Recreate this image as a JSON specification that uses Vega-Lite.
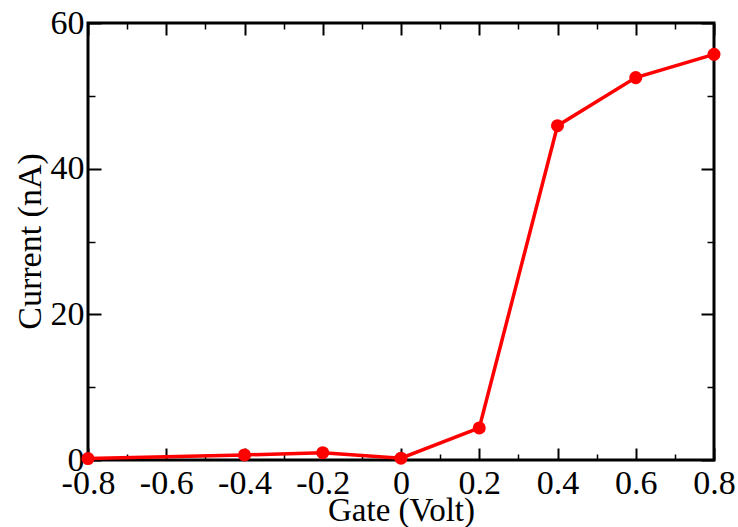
{
  "$schema": "https://vega.github.io/schema/vega-lite/v6.json",
  "width": 626,
  "height": 437,
  "autosize": {"type": "none"},
  "padding": {"left": 88, "top": 23, "right": 24, "bottom": 67},
  "background": "white",
  "config": {
    "view": {"stroke": "black", "strokeWidth": 3},
    "axis": {
      "domain": false,
      "grid": false,
      "labelFont": "Liberation Serif",
      "labelFontSize": 34,
      "labelColor": "black",
      "titleFont": "Liberation Serif",
      "titleFontSize": 34,
      "titleFontWeight": "normal",
      "titleColor": "black",
      "labelFlush": false,
      "labelOverlap": false,
      "labelBound": false,
      "tickColor": "black"
    }
  },
  "data": {
    "values": [
      {"gate": -0.8, "current": 0.2},
      {"gate": -0.4, "current": 0.7},
      {"gate": -0.2, "current": 1.0},
      {"gate": 0.0, "current": 0.25},
      {"gate": 0.2, "current": 4.4},
      {"gate": 0.4, "current": 45.9},
      {"gate": 0.6, "current": 52.5},
      {"gate": 0.8, "current": 55.7}
    ]
  },
  "resolve": {"axis": {"x": "independent", "y": "independent"}},
  "layer": [
    {
      "mark": {"type": "line", "color": "#ff0000", "strokeWidth": 3.5},
      "encoding": {
        "x": {"field": "gate", "type": "quantitative",
          "scale": {"domain": [-0.8, 0.8], "nice": false, "zero": false},
          "axis": {"orient": "bottom", "values": [-0.8, -0.6, -0.4, -0.2, 0, 0.2, 0.4, 0.6, 0.8], "ticks": false, "labelPadding": 6, "title": "Gate (Volt)", "titleFontSize": 33, "titleBaseline": "alphabetic", "titleX": 313, "titleY": 60, "labelExpr": "datum.value == 0 ? '0' : replace(format(datum.value, '.1f'), '\u2212', '-')"}},
        "y": {"field": "current", "type": "quantitative",
          "scale": {"domain": [0, 60], "nice": false},
          "axis": {"orient": "left", "values": [0, 20, 40, 60], "ticks": false, "labelPadding": 4, "title": "Current (nA)", "titleBaseline": "alphabetic", "titleAngle": -90, "titleX": -48, "titleY": 218}}
      }
    },
    {
      "mark": {"type": "point", "filled": true, "color": "#ff0000", "size": 170, "opacity": 1},
      "encoding": {
        "x": {"field": "gate", "type": "quantitative",
          "axis": {"orient": "bottom", "values": [-0.8, -0.6, -0.4, -0.2, 0, 0.2, 0.4, 0.6, 0.8], "labels": false, "tickSize": -12, "tickWidth": 2, "title": null}},
        "y": {"field": "current", "type": "quantitative",
          "axis": {"orient": "left", "values": [0, 20, 40, 60], "labels": false, "tickSize": -13, "tickWidth": 2, "title": null}}
      }
    },
    {
      "mark": {"type": "point", "opacity": 0},
      "encoding": {
        "x": {"field": "gate", "type": "quantitative",
          "axis": {"orient": "bottom", "values": [-0.7, -0.5, -0.3, -0.1, 0.1, 0.3, 0.5, 0.7], "labels": false, "tickSize": -6, "tickWidth": 1.5, "title": null}},
        "y": {"field": "current", "type": "quantitative",
          "axis": {"orient": "left", "values": [10, 30, 50], "labels": false, "tickSize": -7, "tickWidth": 1.5, "title": null}}
      }
    },
    {
      "mark": {"type": "point", "opacity": 0},
      "encoding": {
        "x": {"field": "gate", "type": "quantitative",
          "axis": {"orient": "top", "values": [-0.8, -0.6, -0.4, -0.2, 0, 0.2, 0.4, 0.6, 0.8], "labels": false, "tickSize": -12, "tickWidth": 2, "title": null}},
        "y": {"field": "current", "type": "quantitative",
          "axis": {"orient": "right", "values": [0, 20, 40, 60], "labels": false, "tickSize": -13, "tickWidth": 2, "title": null}}
      }
    },
    {
      "mark": {"type": "point", "opacity": 0},
      "encoding": {
        "x": {"field": "gate", "type": "quantitative",
          "axis": {"orient": "top", "values": [-0.7, -0.5, -0.3, -0.1, 0.1, 0.3, 0.5, 0.7], "labels": false, "tickSize": -6, "tickWidth": 1.5, "title": null}},
        "y": {"field": "current", "type": "quantitative",
          "axis": {"orient": "right", "values": [10, 30, 50], "labels": false, "tickSize": -7, "tickWidth": 1.5, "title": null}}
      }
    }
  ]
}
